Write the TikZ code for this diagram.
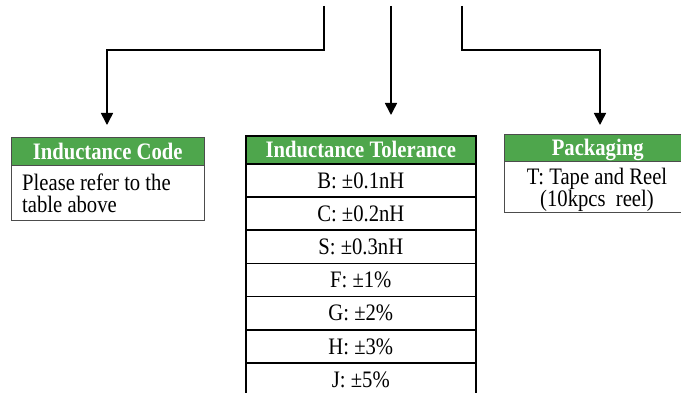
\documentclass[tikz,border=0pt]{standalone}
\usepackage{fontspec}
\setmainfont{Liberation Serif}[FakeStretch=0.875]
\usetikzlibrary{arrows.meta}
\definecolor{hgreen}{RGB}{78,166,76}
\tikzset{
  txt/.style={font=\fontsize{23.6}{22}\selectfont},
  hdr/.style={draw=#1, fill=hgreen, text=white, font=\fontsize{23.6}{24}\selectfont\bfseries, inner sep=0pt, anchor=north west, text depth=0pt},
  cell/.style={draw=#1, fill=white, font=\fontsize{23.6}{22}\selectfont, inner sep=0pt, anchor=north west},
  conn/.style={line width=1.6pt, -{Triangle[width=12pt,length=12pt]}}
}
\begin{document}
\begin{tikzpicture}[x=1pt,y=-1pt]
\useasboundingbox (0,0) rectangle (681,393);
% left box
\node[hdr=black!70, minimum width=193pt, minimum height=28pt] (codeh) at (11,137) {Inductance Code};
\node[cell=black!70, minimum width=193pt, minimum height=55pt] (codeb) at (11,165) {};
\node[txt, align=left, anchor=north west, inner sep=0pt] (codet) at (22,173.8) {Please refer to the\\table above};
% middle table
\node[hdr=black, line width=1.6pt, minimum width=230pt, minimum height=28pt] (tolh) at (245,135) {Inductance Tolerance};
\foreach \t [count=\i] in {B: ±0.1nH, C: ±0.2nH, S: ±0.3nH, F: ±1\%, G: ±2\%, H: ±3\%, J: ±5\%}{
  \node[cell=black, line width=1.6pt, minimum width=230pt, minimum height=33.2pt] (r\i) at (245,{163+33.2*(\i-1)}) {\t};
}
% right box
\node[hdr=black!70, minimum width=187pt, minimum height=27pt] (packh) at (504,134) {Packaging};
\node[cell=black!70, minimum width=187pt, minimum height=51pt] (packb) at (504,161) {};
\node[txt, align=center, anchor=north, inner sep=0pt] (packt) at (597,167.8) {T: Tape and Reel\\(10kpcs\ \ reel)};
% connectors
\coordinate (s1) at (324,6);
\coordinate (s2) at (391,6);
\coordinate (s3) at (462,6);
\coordinate (e1) at (107,125);
\coordinate (e2) at (391,115);
\coordinate (e3) at (600,125);
\draw[conn] (s1) |- ([yshift=-44pt]s1 -| e1) -- (e1);
\draw[conn] (s2) -- (e2);
\draw[conn] (s3) |- ([yshift=-44pt]s3 -| e3) -- (e3);
\end{tikzpicture}
\end{document}
